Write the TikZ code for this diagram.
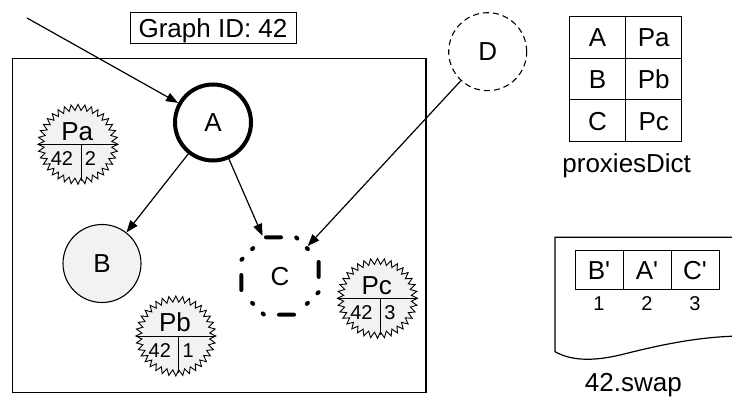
\documentclass[tikz,border=0pt]{standalone}
\usepackage{fontspec}
\setmainfont{Liberation Sans}
\usetikzlibrary{arrows.meta,shapes.geometric,calc}
\definecolor{softgray}{HTML}{F2F2F2}
\newcommand\proxystar[6]{%
  \begin{scope}[shift={(#2,#3)}]
    \filldraw[fill=softgray, line width=0.9pt] plot[samples at={0,...,71}] ({90+\x*5}:{37+3*cos(\x*180)}) -- cycle;
    \draw[line width=1pt] (-39.5,0) -- (39.5,0) (3,0) -- (3,-37);
    \node[big] (#1) at (-0.8,13.5) {#4};
    \node[small] (#1-l) at (-16,-14.3) {#5};
    \node[small] (#1-r) at (12.5,-14.3) {#6};
  \end{scope}}
\begin{document}
\begin{tikzpicture}[x=1pt,y=1pt,
  big/.style={font=\fontsize{26}{30}\selectfont, text height=18.6pt, text depth=0pt, inner sep=0pt},
  small/.style={font=\fontsize{20}{24}\selectfont, text height=14.3pt, text depth=0pt, inner sep=0pt},
  conn/.style={line width=1.2pt, -{Triangle[length=12pt,width=9pt]}},
  cell/.style={draw, line width=1pt, big, minimum height=41.7pt, minimum width=56.2pt},
  swcell/.style={draw, line width=1pt, big, minimum height=38.6pt, minimum width=48pt},
  cline/.style={line width=4pt, line cap=round, line join=round, dash pattern=on 15pt off 15.3pt on 1.5pt off 13.55pt on 1.5pt off 17.29pt, dash phase=62.14pt}
]
\useasboundingbox (0,0) rectangle (732,397);

% frame of graph
\node[draw, line width=1.2pt, minimum width=413.3pt, minimum height=334pt, inner sep=0pt] (frame) at (219.35,171.3) {};
\node[draw, line width=1pt, minimum width=166pt, minimum height=31.4pt, big] (gid) at (213,369) {Graph ID: 42};

% nodes
\node[draw, circle, line width=4pt, minimum size=76pt, big] (A) at (213,274.5) {A};
\node[draw, circle, fill=softgray, line width=1.1pt, minimum size=78pt, big] (B) at (102,133.5) {B};
\node[regular polygon, regular polygon sides=8, minimum size=83.8pt, outer sep=2pt, big] (C) at (280,121) {C};
\draw[cline] ($(C.center)+(112.5:41.9)$) -- ($(C.center)+(67.5:41.9)$) -- ($(C.center)+(22.5:41.9)$) -- ($(C.center)+(-22.5:41.9)$) -- ($(C.center)+(-67.5:41.9)$) -- ($(C.center)+(-112.5:41.9)$) -- ($(C.center)+(-157.5:41.9)$) -- ($(C.center)+(157.5:41.9)$) -- cycle;
\node[draw, circle, dash pattern=on 6pt off 4pt, line width=1.1pt, minimum size=78pt, big] (D) at (487.7,345.3) {D};

% proxies
\proxystar{Pa}{78}{252.7}{Pa}{42}{2}
\proxystar{Pb}{175.8}{61}{Pb}{42}{1}
\proxystar{Pc}{377.5}{98.7}{Pc}{42}{3}

% connectors
\coordinate (in) at (27,379);
\draw[conn] (in) -- (A);
\draw[conn] (A) -- (B);
\draw[conn] (A) -- (C);
\draw[conn] (D) -- (C);

% proxiesDict
\node[cell] (t11) at (597.5,359.5) {A};
\node[cell] (t12) at (653.7,359.5) {Pa};
\node[cell] (t21) at (597.5,317.85) {B};
\node[cell] (t22) at (653.7,317.85) {Pb};
\node[cell] (t31) at (597.5,276.15) {C};
\node[cell] (t32) at (653.7,276.15) {Pc};
\node[big] (pd) at (626.7,233.7) {proxiesDict};

% swap file
\begin{scope}
\clip (0,0) rectangle (732,397);
\draw[line width=1.2pt] (745,159.7) -- (555,159.7) -- (555,45.3) .. controls (570,37) and (590,35) .. (620,42) .. controls (660,52) and (700,61) .. (745,61);
\end{scope}
\node[swcell] (s1) at (599,127) {B\textquotesingle};
\node[swcell] (s2) at (647,127) {A\textquotesingle};
\node[swcell] (s3) at (695,127) {C\textquotesingle};
\node[small] (n1) at (599,93.3) {1};
\node[small] (n2) at (647,93.3) {2};
\node[small] (n3) at (695,93.3) {3};
\node[big] (sw) at (633.3,14.5) {42.swap};
\end{tikzpicture}
\end{document}
